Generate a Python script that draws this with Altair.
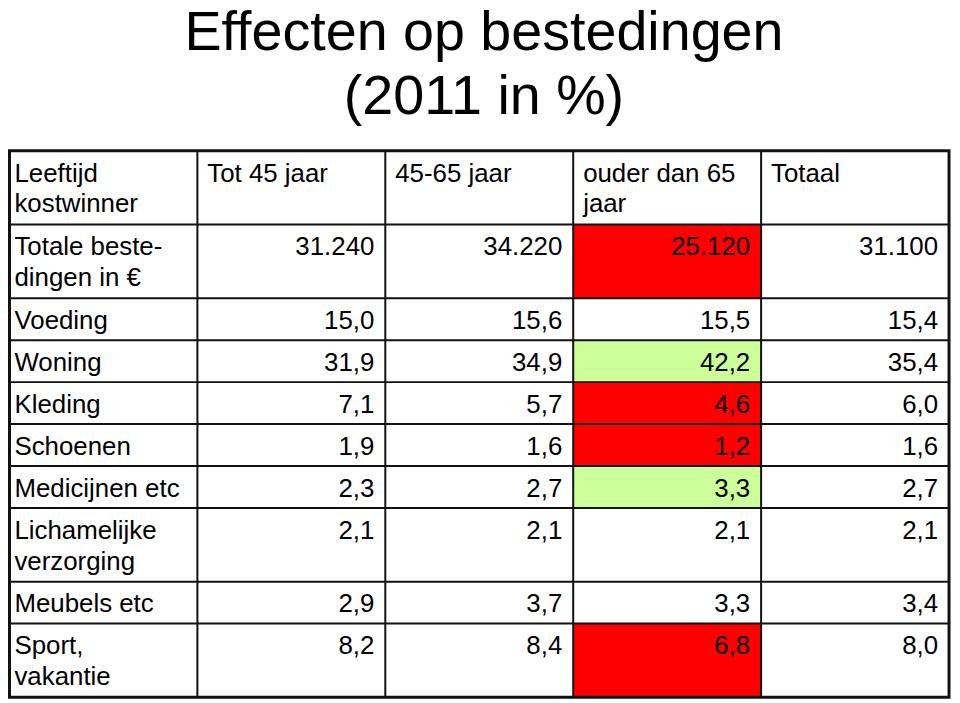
import altair as alt
import pandas as pd

# ---------------- data ----------------
title_lines = ["Effecten op bestedingen", "(2011 in %)"]
corner_label = "Leeftijd\nkostwinner"
col_headers = ["Tot 45 jaar", "45-65 jaar", "ouder dan 65\njaar", "Totaal"]
total_label = "Totale beste-\ndingen in €"
totals = [31240, 34220, 25120, 31100]
categories = ["Voeding", "Woning", "Kleding", "Schoenen", "Medicijnen etc",
              "Lichamelijke\nverzorging", "Meubels etc", "Sport,\nvakantie"]
tot45 = [15.0, 31.9, 7.1, 1.9, 2.3, 2.1, 2.9, 8.2]
j45_65 = [15.6, 34.9, 5.7, 1.6, 2.7, 2.1, 3.7, 8.4]
ouder65 = [15.5, 42.2, 4.6, 1.2, 3.3, 2.1, 3.3, 6.8]
totaal = [15.4, 35.4, 6.0, 1.6, 2.7, 2.1, 3.4, 8.0]
# highlighted cells (row label, column header)
lager = [(total_label, "ouder dan 65\njaar"), ("Kleding", "ouder dan 65\njaar"),
         ("Schoenen", "ouder dan 65\njaar"), ("Sport,\nvakantie", "ouder dan 65\njaar")]
hoger = [("Woning", "ouder dan 65\njaar"), ("Medicijnen etc", "ouder dan 65\njaar")]

# ---------------- build table ----------------
FONT = "Liberation Sans"
FS = 26
BASE_H = 42.2   # single-line row height
EXTRA_H = 32.0  # per extra text line

row_labels = [corner_label, total_label] + categories
series = [tot45, j45_65, ouder65, totaal]

def nlines(s):
    return s.count("\n") + 1

row_lines = [max(nlines(corner_label), max(nlines(h) for h in col_headers))]
row_lines += [nlines(l) for l in row_labels[1:]]
starts, ends = [], []
pos = 0.0
for n in row_lines:
    starts.append(pos)
    pos += BASE_H + EXTRA_H * (n - 1)
    ends.append(pos)
TOTAL = pos
NCOL = len(col_headers) + 1

fmt_tot = lambda v: f"{v:,}".replace(",", ".")
fmt_pct = lambda v: f"{v:.1f}".replace(".", ",")

labels_df = pd.DataFrame({"label": row_labels, "y0": starts, "y1": ends, "x": 0})
headers_df = pd.DataFrame({"label": col_headers, "x": list(range(1, NCOL)), "y0": 0.0})

cells = []
for ci, h in enumerate(col_headers):
    cells.append({"row": total_label, "col": h, "x0": ci + 1, "x1": ci + 2,
                  "y0": starts[1], "y1": ends[1], "label": fmt_tot(totals[ci])})
    for ri, cat in enumerate(categories):
        cells.append({"row": cat, "col": h, "x0": ci + 1, "x1": ci + 2,
                      "y0": starts[ri + 2], "y1": ends[ri + 2],
                      "label": fmt_pct(series[ci][ri])})
cells_df = pd.DataFrame(cells)
def kleur(r):
    if (r["row"], r["col"]) in lager:
        return "lager"
    if (r["row"], r["col"]) in hoger:
        return "hoger"
    return "geen"
cells_df["kleur"] = cells_df.apply(kleur, axis=1)
hl_df = cells_df[cells_df["kleur"] != "geen"]

vlines = pd.DataFrame({"x": list(range(1, NCOL)), "y0": 0.0, "y1": TOTAL})
hlines = pd.DataFrame({"y": starts[1:], "x0": 0, "x1": NCOL})
border = pd.DataFrame({"x0": [0], "x1": [NCOL], "y0": [0.0], "y1": [TOTAL]})

# ---------------- scales ----------------
xs = alt.Scale(domain=[0, NCOL], range=[1.5, 947], nice=False, zero=False)
ys = alt.Scale(domain=[0, TOTAL], range=[1.5, 551.5], nice=False, zero=False)

def X(f):
    return alt.X(f, type="quantitative", scale=xs, axis=None)
def Y(f):
    return alt.Y(f, type="quantitative", scale=ys, axis=None)

highlight = alt.Chart(hl_df).mark_rect().encode(
    x=X("x0"), x2="x1", y=Y("y0"), y2="y1",
    color=alt.Color("kleur:N", scale=alt.Scale(domain=["lager", "hoger"],
                                               range=["#FF0000", "#CCFF99"]),
                    legend=None),
)
vrules = alt.Chart(vlines).mark_rule(color="#111111", strokeWidth=2).encode(
    x=X("x"), y=Y("y0"), y2="y1")
hrules = alt.Chart(hlines).mark_rule(color="#111111", strokeWidth=2).encode(
    y=Y("y"), x=X("x0"), x2="x1")
frame = alt.Chart(border).mark_rect(fillOpacity=0, stroke="#111111", strokeWidth=3).encode(
    x=X("x0"), x2="x1", y=Y("y0"), y2="y1")

text_common = dict(font=FONT, fontSize=FS, color="black", baseline="alphabetic",
                   lineBreak="\n", lineHeight=31, dy=31)
label_text = alt.Chart(labels_df).mark_text(align="left", dx=5, **text_common).encode(
    x=X("x"), y=Y("y0"), text="label:N")
header_text = alt.Chart(headers_df).mark_text(align="left", dx=10, **text_common).encode(
    x=X("x"), y=Y("y0"), text="label:N")
value_text = alt.Chart(cells_df).mark_text(align="right", dx=-11, **text_common).encode(
    x=X("x1"), y=Y("y0"), text="label:N")

chart = alt.layer(highlight, vrules, hrules, frame, label_text, header_text, value_text).properties(
    width=950, height=553,
    autosize=alt.AutoSizeParams(type="none"),
    padding={"top": 140, "left": 0, "right": 0, "bottom": 0},
    title=alt.TitleParams(text=title_lines, font=FONT, fontSize=56, fontWeight="normal",
                          color="black", anchor="middle", lineHeight=64, offset=24, dx=4),
).configure_view(stroke=None)

chart.save("out.html", embed_options={"renderer": "svg", "actions": False})
